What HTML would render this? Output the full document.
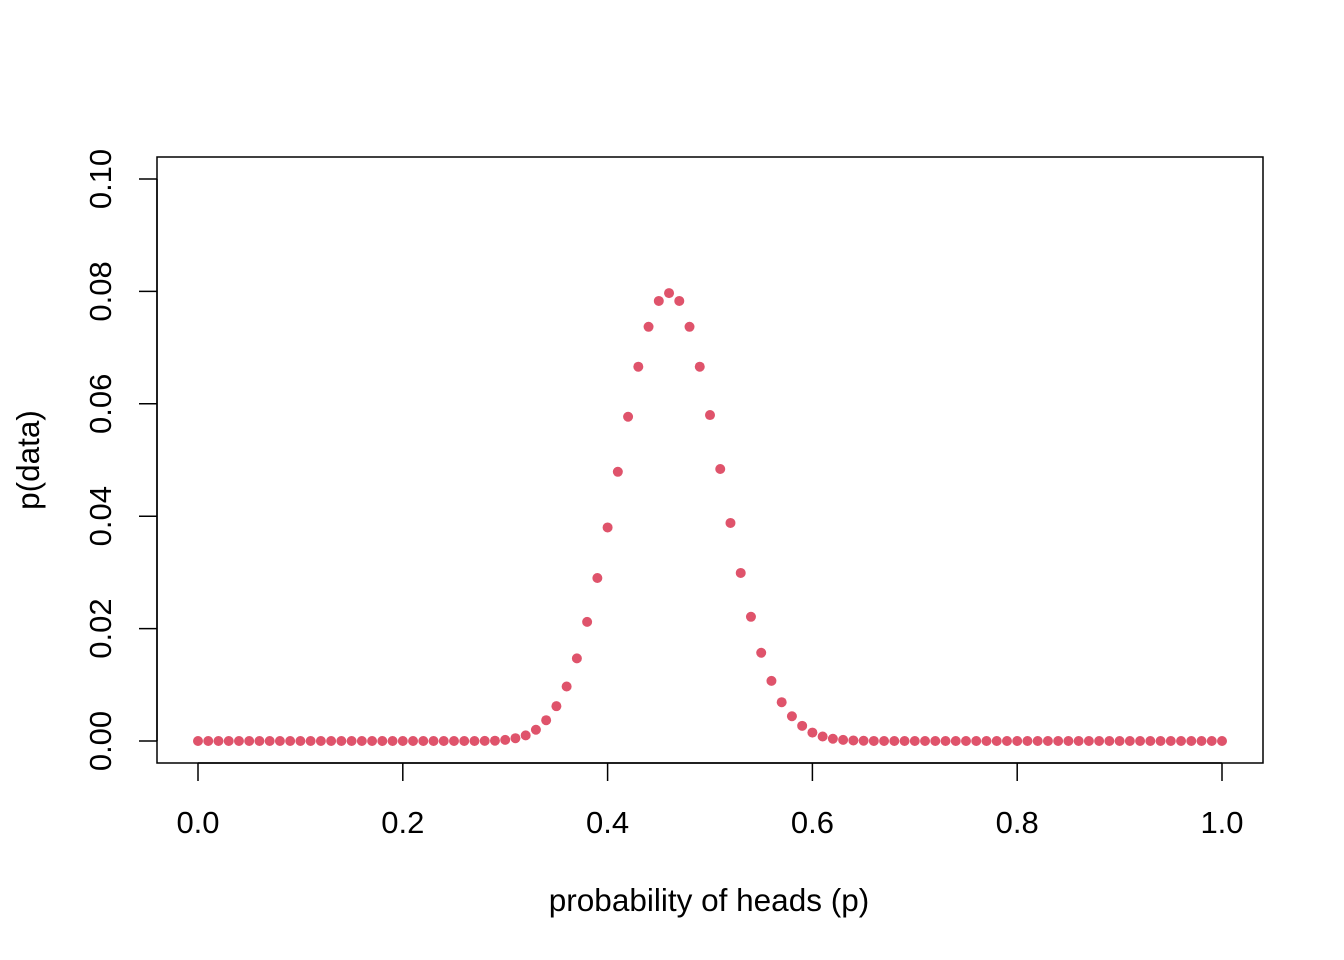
<!DOCTYPE html>
<html><head><meta charset="utf-8"><style>
html,body{margin:0;padding:0;background:#fff}
svg{display:block;font-family:"Liberation Sans",Arial,sans-serif}
</style></head><body>
<svg id="chart" width="1344" height="960" viewBox="0 0 1344 960" xmlns="http://www.w3.org/2000/svg">
<rect x="0" y="0" width="1344" height="960" fill="#fff"/>
<rect x="157" y="157" width="1106" height="606" fill="none" stroke="#000" stroke-width="1.5"/>
<g id="xaxis"></g>
<g id="yaxis"></g>
<g id="points"></g>
<text x="709" y="911" font-size="31.5" text-anchor="middle">probability of heads (p)</text>
<text transform="translate(39,460) rotate(-90)" font-size="31.5" text-anchor="middle">p(data)</text>
</svg>
<script>
const xTicks = [0, 0.2, 0.4, 0.6, 0.8, 1.0];
const xTickLabels = ["0.0", "0.2", "0.4", "0.6", "0.8", "1.0"];
const yTicks = [0, 0.02, 0.04, 0.06, 0.08, 0.10];
const yTickLabels = ["0.00", "0.02", "0.04", "0.06", "0.08", "0.10"];
const pValues = [0,0.01,0.02,0.03,0.04,0.05,0.06,0.07,0.08,0.09,0.10,0.11,0.12,0.13,0.14,0.15,0.16,0.17,0.18,0.19,0.20,0.21,0.22,0.23,0.24,0.25,0.26,0.27,0.28,0.29,0.30,0.31,0.32,0.33,0.34,0.35,0.36,0.37,0.38,0.39,0.40,0.41,0.42,0.43,0.44,0.45,0.46,0.47,0.48,0.49,0.50,0.51,0.52,0.53,0.54,0.55,0.56,0.57,0.58,0.59,0.60,0.61,0.62,0.63,0.64,0.65,0.66,0.67,0.68,0.69,0.70,0.71,0.72,0.73,0.74,0.75,0.76,0.77,0.78,0.79,0.80,0.81,0.82,0.83,0.84,0.85,0.86,0.87,0.88,0.89,0.90,0.91,0.92,0.93,0.94,0.95,0.96,0.97,0.98,0.99,1.00];
const likelihood = [0,0,0,0,0,0,0,0,0,0,0,0,0,0,0,0,0,0,0,0,0,0,0,0,0,0,0,0,0.00002,0.00005,
0.0002,0.0005,0.001,0.002,0.0037,0.0062,0.0097,0.0147,0.0212,0.029,0.038,0.0479,0.0577,0.0666,0.0737,0.0783,0.0797,0.0783,0.0737,0.0666,
0.058,0.0484,0.0388,0.0299,0.0221,0.0157,0.0107,0.0069,0.0044,0.0027,0.0015,0.0008,0.0004,0.0002,0.0001,0.00004,0.00001,0,0,0,
0,0,0,0,0,0,0,0,0,0,0,0,0,0,0,0,0,0,0,0,0,0,0,0,0,0,0,0,0,0,0];

const NS = "http://www.w3.org/2000/svg";
const xs = v => 198 + v * 1024;
const ys = v => 741 - v * 5620;
function mk(tag, attrs, parent){const e=document.createElementNS(NS,tag);for(const k in attrs)e.setAttribute(k,attrs[k]);parent.appendChild(e);return e;}

const xg = document.getElementById('xaxis');
const xl = mk('line',{x1:xs(0),x2:xs(1),y1:763,y2:763,stroke:'#000','stroke-width':1.5},xg);


xTicks.forEach((t,i)=>{
  const l = mk('line',{x1:xs(t),x2:xs(t),y1:763,y2:781,stroke:'#000','stroke-width':1.5},xg);
  
  
  const tx = mk('text',{x:xs(t),y:833,'font-size':31,'text-anchor':'middle'},xg);
  tx.textContent = xTickLabels[i];
  
  
});

const yg = document.getElementById('yaxis');
const yl = mk('line',{x1:157,x2:157,y1:ys(0),y2:ys(0.1),stroke:'#000','stroke-width':1.5},yg);


yTicks.forEach((t,i)=>{
  const l = mk('line',{x1:139,x2:157,y1:ys(t),y2:ys(t),stroke:'#000','stroke-width':1.5},yg);
  
  
  const tx = mk('text',{transform:`translate(111,${ys(t)}) rotate(-90)`,'font-size':31,'text-anchor':'middle'},yg);
  tx.textContent = yTickLabels[i];
  
  
});

const pg = document.getElementById('points');
pValues.forEach((p,i)=>{
  const c = mk('circle',{cx:xs(p),cy:ys(likelihood[i]),r:5,fill:'#DF536B'},pg);
  
  
});
</script>
</body></html>
